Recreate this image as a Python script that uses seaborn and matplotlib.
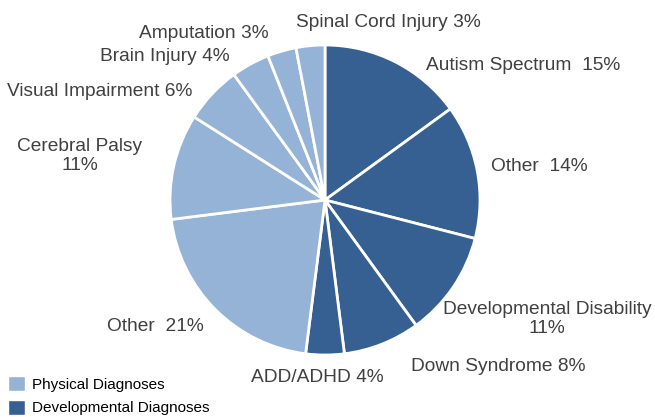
import matplotlib.pyplot as plt
from matplotlib.patches import Patch
import seaborn as sns

# slices, clockwise from 12 o'clock
categories = [
    "Autism Spectrum", "Other", "Developmental Disability", "Down Syndrome",
    "ADD/ADHD", "Other", "Cerebral Palsy", "Visual Impairment",
    "Brain Injury", "Amputation", "Spinal Cord Injury",
]
shares = [15, 14, 11, 8, 4, 21, 11, 6, 4, 3, 3]
groups = ["Developmental"] * 5 + ["Physical"] * 6
label_texts = [
    "Autism Spectrum  15%", "Other  14%", "Developmental Disability\n11%",
    "Down Syndrome 8%", "ADD/ADHD 4%", "Other  21%", "Cerebral Palsy\n11%",
    "Visual Impairment 6%", "Brain Injury 4%", "Amputation 3%",
    "Spinal Cord Injury 3%",
]
legend_labels = ["Physical Diagnoses", "Developmental Diagnoses"]

# label anchor points (in pie-radius units)
label_pos = [
    (1.277, 0.865), (1.381, 0.219), (1.432, -0.768), (1.116, -1.077),
    (-0.052, -1.142), (-1.097, -0.819), (-1.581, 0.284), (-1.452, 0.697),
    (-1.032, 0.923), (-0.781, 1.071), (0.406, 1.142),
]

sns.set_theme(style="white")
plt.rcParams["font.family"] = ["Liberation Sans", "DejaVu Sans"]

palette = {"Physical": "#95b3d7", "Developmental": "#376092"}
colors = [palette[g] for g in groups]
text_color = "#404040"

fig = plt.figure(figsize=(6.55, 4.17), dpi=100)
ax = fig.add_axes([0, 0, 1, 1])
ax.pie(shares, colors=colors, startangle=90, counterclock=False, radius=1,
       wedgeprops=dict(edgecolor="white", linewidth=2))

for txt, (x, y) in zip(label_texts, label_pos):
    ax.text(x, y, txt, ha="center", va="center", fontsize=13.8,
            color=text_color, linespacing=1.1)

r = 155.0
ax.set_xlim(-325 / r, (655 - 325) / r)
ax.set_ylim(-217 / r, 200 / r)
ax.set_aspect("equal")
ax.axis("off")

handles = [Patch(facecolor=palette["Physical"]), Patch(facecolor=palette["Developmental"])]
fig.legend(handles, legend_labels, loc="upper left",
           bbox_to_anchor=(8 / 655, (417 - 376) / 417), frameon=False,
           fontsize=11, handlelength=1.1, handleheight=1.1,
           handletextpad=0.5, labelspacing=0.55, borderpad=0, borderaxespad=0,
           labelcolor="black")

fig.savefig("out.png", dpi=100)
